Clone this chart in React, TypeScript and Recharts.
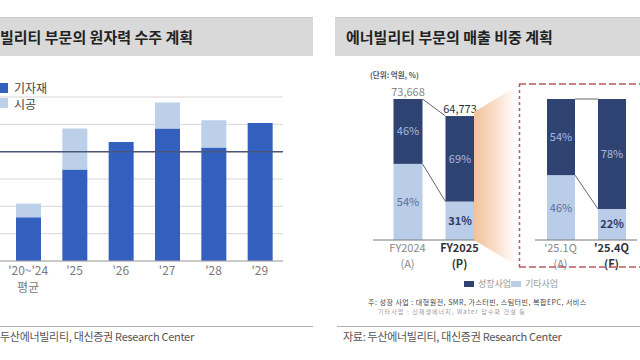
import React from 'react';
import { BarChart, Bar, XAxis, YAxis, CartesianGrid, ReferenceLine, LabelList } from 'recharts';

const FONT = '"Noto Sans CJK KR", "Noto Sans", sans-serif';

// 원자력 수주 계획 (left)
const orderYears = ["'20~'24\n평균", "'25", "'26", "'27", "'28", "'29"];
const equipment = [1.6, 3.35, 4.35, 4.85, 4.15, 5.05];
const construction = [0.5, 1.5, 0, 0.95, 1.0, 0];
const orderTarget = 4;
const orderTicks = [0, 1, 2, 3, 4, 5, 6];

// 매출 비중 계획 (right)
const yearLabels = ['FY2024\n(A)', 'FY2025\n(P)'];
const yearTotals = [73668, 64773];
const yearGrowthPct = [46, 69];
const yearOtherPct = [54, 31];

const quarterLabels = ["'25.1Q\n(A)", "'25.4Q\n(F)"];
const quarterGrowthPct = [54, 78];
const quarterOtherPct = [46, 22];

const LEFT_DARK = '#3360bf';
const LEFT_LIGHT = '#bdd0ea';
const NAVY = '#2f4373';
const PALE = '#b9cce8';

const orderData = orderYears.map((name, i) => ({
    name,
    equipment: equipment[i],
    construction: construction[i],
}));

const yearData = yearLabels.map((name, i) => ({
    name,
    total: yearTotals[i],
    other: (yearTotals[i] * yearOtherPct[i]) / 100,
    growth: (yearTotals[i] * yearGrowthPct[i]) / 100,
    otherPct: yearOtherPct[i],
    growthPct: yearGrowthPct[i],
}));

const quarterData = quarterLabels.map((name, i) => ({
    name,
    other: quarterOtherPct[i],
    growth: quarterGrowthPct[i],
    otherPct: quarterOtherPct[i],
    growthPct: quarterGrowthPct[i],
}));

// bar segment that also draws the connector from the previous bar's top edge
const linkStore: Record<string, { right: number; top: number }[]> = {};
function linkedSegment(key: string, fill: string) {
    return (props: any) => {
        const { x, y, width, height, index } = props;
        const list = (linkStore[key] = linkStore[key] || []);
        list[index] = { right: x + width, top: y };
        const prev = index > 0 ? list[index - 1] : undefined;
        return (
            <g>
                <rect x={x} y={y} width={width} height={height} fill={fill} />
                {prev && (
                    <line x1={prev.right} y1={prev.top} x2={x} y2={y} stroke="#666" strokeWidth={1} />
                )}
            </g>
        );
    };
}

function pctLabel(inDark: boolean) {
    return (p: any) => {
        const strong = !inDark && p.index === 1;
        return (
            <text
                x={p.x + p.width / 2}
                y={p.y + p.height / 2 + 4}
                textAnchor="middle"
                fontSize={11}
                fontFamily={FONT}
                fontWeight={strong ? 700 : 400}
                fill={inDark ? '#a7bbe0' : strong ? '#2a3966' : '#5a6d9c'}
            >
                {p.value}%
            </text>
        );
    };
}

const totalLabel = (p: any) => (
    <text
        x={p.x + p.width / 2}
        y={p.y - 3}
        textAnchor="middle"
        fontSize={11}
        fontFamily={FONT}
        fill={p.index === 1 ? '#333' : '#888'}
    >
        {Number(p.value).toLocaleString('en-US')}
    </text>
);

const OrderTick = (p: any) => {
    const lines = String(p.payload.value).split('\n');
    return (
        <g>
            {lines.map((l, i) => (
                <text key={i} x={p.x} y={p.y + 14 + i * 17} textAnchor="middle" fontSize={12} fontFamily={FONT} fill="#7a7a7a">
                    {l}
                </text>
            ))}
        </g>
    );
};

const PeriodTick = (p: any) => {
    const lines = String(p.payload.value).split('\n');
    const strong = p.index === 1;
    return (
        <g>
            {lines.map((l, i) => (
                <text
                    key={i}
                    x={p.x}
                    y={p.y + 11.5 + i * 16}
                    textAnchor="middle"
                    fontSize={11}
                    fontFamily={FONT}
                    fontWeight={strong ? 600 : 400}
                    fill={strong ? '#333' : '#888'}
                >
                    {l}
                </text>
            ))}
        </g>
    );
};

const abs = (left: number, top: number, extra: React.CSSProperties = {}): React.CSSProperties => ({
    position: 'absolute',
    left,
    top,
    whiteSpace: 'nowrap',
    fontFamily: FONT,
    ...extra,
});

export default function App() {
    return (
        <div style={{ position: 'fixed', left: 0, top: 0, width: 640, height: 360, background: '#fff', overflow: 'hidden' }}>
            {/* title bars */}
            <div style={abs(0, 17, { width: 313, height: 38, background: '#d9d9d9', borderTop: '1px solid #c9c9c9' })} />
            <div style={abs(335, 17, { width: 305, height: 38, background: '#d9d9d9', borderTop: '1px solid #c9c9c9' })} />
            <div style={abs(0, 26, { fontSize: 15, fontWeight: 700, color: '#222' })}>빌리티 부문의 원자력 수주 계획</div>
            <div style={abs(346, 26, { fontSize: 15, fontWeight: 700, color: '#222' })}>에너빌리티 부문의 매출 비중 계획</div>

            {/* left chart */}
            <div style={abs(0, 0)}>
                <BarChart width={320} height={300} data={orderData} margin={{ top: 97, right: 37, bottom: 9, left: 0 }}>
                    <CartesianGrid horizontal vertical={false} stroke="#d6d6d6" />
                    <YAxis hide domain={[0, 6]} ticks={orderTicks} />
                    <XAxis
                        dataKey="name"
                        height={30}
                        padding={{ left: 5, right: 0 }}
                        tickLine={false}
                        tickSize={0}
                        tickMargin={0}
                        interval={0}
                        axisLine={{ stroke: '#a8a8a8' }}
                        tick={<OrderTick />}
                    />
                    <Bar dataKey="equipment" stackId="a" fill={LEFT_DARK} barSize={25} isAnimationActive={false} />
                    <Bar dataKey="construction" stackId="a" fill={LEFT_LIGHT} barSize={25} isAnimationActive={false} />
                    <ReferenceLine y={orderTarget} stroke="#4b5678" strokeWidth={1.5} />
                </BarChart>
            </div>

            {/* left legend */}
            <div style={abs(-2, 83, { width: 10, height: 10, background: LEFT_DARK })} />
            <div style={abs(14, 81, { fontSize: 12, lineHeight: '14px', color: '#444' })}>기자재</div>
            <div style={abs(-2, 98, { width: 10, height: 10, background: LEFT_LIGHT })} />
            <div style={abs(14, 97, { fontSize: 12, lineHeight: '14px', color: '#444' })}>시공</div>

            {/* right: annual */}
            <div style={abs(370, 69, { fontSize: 7.5, fontWeight: 700, color: '#555' })}>(단위: 억원, %)</div>
            <div style={abs(360, 0)}>
                <BarChart width={140} height={300} data={yearData} margin={{ top: 86.9, right: 14.5, bottom: 30, left: 13 }}>
                    <YAxis hide domain={[0, 80000]} />
                    <XAxis
                        dataKey="name"
                        height={30}
                        padding={{ left: 8.5, right: 0 }}
                        tickLine={false}
                        tickSize={0}
                        tickMargin={0}
                        interval={0}
                        axisLine={{ stroke: '#777' }}
                        tick={<PeriodTick />}
                    />
                    <Bar dataKey="other" stackId="s" barSize={29} shape={linkedSegment('yearOther', PALE)} isAnimationActive={false}>
                        <LabelList dataKey="otherPct" content={pctLabel(false)} />
                    </Bar>
                    <Bar dataKey="growth" stackId="s" barSize={29} shape={linkedSegment('yearGrowth', NAVY)} isAnimationActive={false}>
                        <LabelList dataKey="growthPct" content={pctLabel(true)} />
                        <LabelList dataKey="total" content={totalLabel} />
                    </Bar>
                </BarChart>
            </div>

            {/* right: quarterly */}
            <div style={abs(520, 0)}>
                <BarChart width={120} height={300} data={quarterData} margin={{ top: 99, right: 3, bottom: 30, left: 15 }}>
                    <YAxis hide domain={[0, 100]} />
                    <XAxis
                        dataKey="name"
                        height={30}
                        tickLine={false}
                        tickSize={0}
                        tickMargin={0}
                        interval={0}
                        axisLine={{ stroke: '#777' }}
                        tick={<PeriodTick />}
                    />
                    <Bar dataKey="other" stackId="s" barSize={28} shape={linkedSegment('qOther', PALE)} isAnimationActive={false}>
                        <LabelList dataKey="otherPct" content={pctLabel(false)} />
                    </Bar>
                    <Bar dataKey="growth" stackId="s" barSize={28} shape={linkedSegment('qGrowth', NAVY)} isAnimationActive={false}>
                        <LabelList dataKey="growthPct" content={pctLabel(true)} />
                    </Bar>
                </BarChart>
            </div>

            {/* zoom callout + dashed frame */}
            <svg width={640} height={360} style={{ position: 'absolute', left: 0, top: 0, pointerEvents: 'none' }}>
                <defs>
                    <linearGradient id="callout" x1="0" y1="0" x2="1" y2="0">
                        <stop offset="0%" stopColor="#f0c29a" />
                        <stop offset="45%" stopColor="#f8dcc6" />
                        <stop offset="80%" stopColor="#fdf3ec" />
                        <stop offset="100%" stopColor="#ffffff" />
                    </linearGradient>
                </defs>
                <polygon points="474,112 517,86 517,266 474,240" fill="url(#callout)" />
                <line x1={519} y1={84} x2={640} y2={84} stroke="#bd5a62" strokeWidth={1.5} strokeDasharray="7 3" />
                <line x1={519} y1={267} x2={640} y2={267} stroke="#bd5a62" strokeWidth={1.5} strokeDasharray="7 3" />
                <line x1={519.5} y1={84} x2={519.5} y2={267} stroke="#b05a66" strokeWidth={1.5} strokeDasharray="3 3" />
            </svg>

            {/* right legend */}
            <div style={abs(464, 281, { width: 10, height: 6, background: NAVY })} />
            <div style={abs(478, 278, { fontSize: 9, lineHeight: '12px', color: '#999' })}>성장사업</div>
            <div style={abs(511, 281, { width: 10, height: 6, background: PALE })} />
            <div style={abs(525, 278, { fontSize: 9, lineHeight: '12px', color: '#999' })}>기타사업</div>

            {/* notes */}
            <div style={abs(368, 297, { fontSize: 7, lineHeight: '10px', letterSpacing: 0.5, color: '#444' })}>주: 성장 사업 : 대형원전, SMR, 가스터빈, 스팀터빈, 복합EPC, 서비스</div>
            <div style={abs(378, 307.5, { fontSize: 6, lineHeight: '8.5px', letterSpacing: 1.1, color: '#999' })}>기타사업 : 신재생에너지, Water 담수화 건설 등</div>

            {/* sources */}
            <div style={abs(0, 326, { width: 313, height: 1, background: '#b0b0b0' })} />
            <div style={abs(337, 326, { width: 303, height: 1, background: '#b0b0b0' })} />
            <div style={abs(0, 328, { fontSize: 11, color: '#555', letterSpacing: -0.3 })}>두산에너빌리티, 대신증권 Research Center</div>
            <div style={abs(343, 328, { fontSize: 11, color: '#555', letterSpacing: -0.3 })}>자료: 두산에너빌리티, 대신증권 Research Center</div>
        </div>
    );
}
